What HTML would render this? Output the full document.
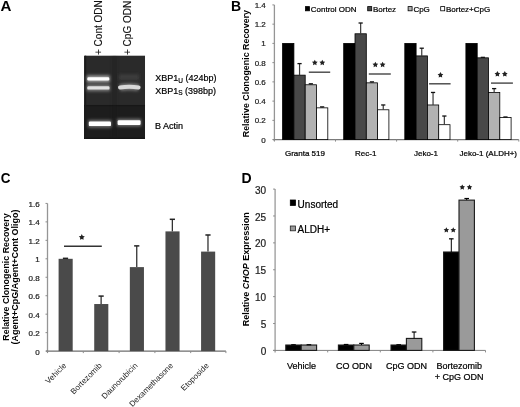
<!DOCTYPE html>
<html><head><meta charset="utf-8"><style>
html,body{margin:0;padding:0;background:#fff;width:520px;height:407px;overflow:hidden}
svg{display:block;font-family:"Liberation Sans", sans-serif}
#w{width:520px;height:407px;will-change:transform}
</style></head><body><div id="w">
<svg width="520" height="407" viewBox="0 0 520 407">
<rect width="520" height="407" fill="#fff"/>
<text transform="translate(0.6,10.9) scale(1.08,1)" font-size="14" font-weight="bold">A</text>
<text x="231.00" y="11.00" font-size="14" text-anchor="start" font-weight="bold" fill="#000" >B</text>
<text transform="translate(0.7,182.8) scale(0.94,1.06)" font-size="14.3" font-weight="bold">C</text>
<text x="241.50" y="183.00" font-size="14" text-anchor="start" font-weight="bold" fill="#000" >D</text>
<defs><filter id="bl1" x="-30%" y="-100%" width="160%" height="300%"><feGaussianBlur stdDeviation="0.75"/></filter><filter id="bl2" x="-100%" y="-100%" width="300%" height="300%"><feGaussianBlur stdDeviation="1.5"/></filter><filter id="bu1" filterUnits="userSpaceOnUse" x="80" y="50" width="70" height="95"><feGaussianBlur stdDeviation="0.75"/></filter><filter id="bu2" filterUnits="userSpaceOnUse" x="80" y="50" width="70" height="95"><feGaussianBlur stdDeviation="1.5"/></filter><clipPath id="gclip"><rect x="84" y="55.4" width="61.1" height="83.5"/></clipPath></defs>
<g clip-path="url(#gclip)">
<rect x="84.00" y="55.40" width="61.10" height="49.20" fill="#2a2a2a" />
<rect x="84.00" y="104.60" width="61.10" height="34.30" fill="#1d1d1d" />
<rect x="84.00" y="104.30" width="61.10" height="2.00" fill="#171717" />
<rect x="84.00" y="137.70" width="61.10" height="1.20" fill="#121212" />
<rect x="84.90" y="55.40" width="1.30" height="83.50" fill="#1b1b1b" />
<rect x="112.50" y="55.40" width="4.00" height="83.50" fill="#1a1a1a" filter="url(#bl2)" opacity="0.35"/>
<rect x="86.80" y="75.40" width="23.00" height="7.00" fill="#a0a0a0" opacity="1.0" filter="url(#bl2)"/>
<rect x="87.30" y="77.30" width="22.00" height="3.20" rx="1.20" fill="#ffffff" filter="url(#bl1)"/>
<rect x="86.80" y="84.65" width="23.20" height="6.50" fill="#808080" opacity="1.0" filter="url(#bl2)"/>
<rect x="87.30" y="86.20" width="22.20" height="3.40" rx="1.20" fill="#e0e0e0" filter="url(#bl1)"/>
<rect x="119" y="74.5" width="20" height="5.5" fill="#3c3c3c" filter="url(#bl2)"/>
<path d="M120.00,87.50 Q129.30,85.90 138.60,87.50" stroke="#7a7a7a" stroke-width="7.0" fill="none" filter="url(#bu2)"/>
<path d="M120.00,87.50 Q129.30,85.90 138.60,87.50" stroke="#d8d8d8" stroke-width="4.0" fill="none" stroke-linecap="round" filter="url(#bu1)"/>
<rect x="88.30" y="120.05" width="23.20" height="7.50" fill="#777" opacity="1.0" filter="url(#bl2)"/>
<rect x="88.80" y="121.50" width="22.20" height="4.60" rx="1.20" fill="#ffffff" filter="url(#bl1)"/>
<rect x="117.10" y="118.85" width="24.00" height="7.50" fill="#777" opacity="1.0" filter="url(#bl2)"/>
<rect x="117.60" y="120.20" width="23.00" height="4.80" rx="1.20" fill="#ffffff" filter="url(#bl1)"/>
</g>
<text transform="translate(101.6,55.0) rotate(-90)" font-size="10" fill="#111" stroke="#111" stroke-width="0.12">+ Cont ODN</text>
<text transform="translate(131.2,55.0) rotate(-90)" font-size="10" fill="#111" stroke="#111" stroke-width="0.12">+ CpG ODN</text>
<text x="155.2" y="81.2" font-size="9" stroke="#000" stroke-width="0.2">XBP1<tspan font-size="6.5" dy="1.5">U</tspan><tspan dy="-1.5"> (424bp)</tspan></text>
<text x="155.2" y="93.8" font-size="9" stroke="#000" stroke-width="0.2">XBP1<tspan font-size="6.5" dy="1.5">S</tspan><tspan dy="-1.5"> (398bp)</tspan></text>
<text x="155.00" y="129.00" font-size="9" text-anchor="start" font-weight="normal" fill="#000" stroke="#000" stroke-width="0.22" >B Actin</text>
<line x1="274.40" y1="4.92" x2="274.40" y2="140.60" stroke="#959595" stroke-width="1.3"/>
<line x1="272.90" y1="139.60" x2="518.80" y2="139.60" stroke="#7a7a7a" stroke-width="1.1"/>
<line x1="272.40" y1="139.60" x2="274.40" y2="139.60" stroke="#8c8c8c" stroke-width="1"/>
<text x="265.80" y="142.50" font-size="8" text-anchor="end" font-weight="normal" fill="#222" stroke="#222" stroke-width="0.22" >0</text>
<line x1="272.40" y1="120.36" x2="274.40" y2="120.36" stroke="#8c8c8c" stroke-width="1"/>
<text x="265.80" y="123.26" font-size="8" text-anchor="end" font-weight="normal" fill="#222" stroke="#222" stroke-width="0.22" >0.2</text>
<line x1="272.40" y1="101.12" x2="274.40" y2="101.12" stroke="#8c8c8c" stroke-width="1"/>
<text x="265.80" y="104.02" font-size="8" text-anchor="end" font-weight="normal" fill="#222" stroke="#222" stroke-width="0.22" >0.4</text>
<line x1="272.40" y1="81.88" x2="274.40" y2="81.88" stroke="#8c8c8c" stroke-width="1"/>
<text x="265.80" y="84.78" font-size="8" text-anchor="end" font-weight="normal" fill="#222" stroke="#222" stroke-width="0.22" >0.6</text>
<line x1="272.40" y1="62.64" x2="274.40" y2="62.64" stroke="#8c8c8c" stroke-width="1"/>
<text x="265.80" y="65.54" font-size="8" text-anchor="end" font-weight="normal" fill="#222" stroke="#222" stroke-width="0.22" >0.8</text>
<line x1="272.40" y1="43.40" x2="274.40" y2="43.40" stroke="#8c8c8c" stroke-width="1"/>
<text x="265.80" y="46.30" font-size="8" text-anchor="end" font-weight="normal" fill="#222" stroke="#222" stroke-width="0.22" >1</text>
<line x1="272.40" y1="24.16" x2="274.40" y2="24.16" stroke="#8c8c8c" stroke-width="1"/>
<text x="265.80" y="27.06" font-size="8" text-anchor="end" font-weight="normal" fill="#222" stroke="#222" stroke-width="0.22" >1.2</text>
<line x1="272.40" y1="4.92" x2="274.40" y2="4.92" stroke="#8c8c8c" stroke-width="1"/>
<text x="265.80" y="7.82" font-size="8" text-anchor="end" font-weight="normal" fill="#222" stroke="#222" stroke-width="0.22" >1.4</text>
<line x1="274.40" y1="139.60" x2="274.40" y2="141.60" stroke="#8c8c8c" stroke-width="1"/>
<line x1="335.50" y1="139.60" x2="335.50" y2="141.60" stroke="#8c8c8c" stroke-width="1"/>
<line x1="396.60" y1="139.60" x2="396.60" y2="141.60" stroke="#8c8c8c" stroke-width="1"/>
<line x1="457.70" y1="139.60" x2="457.70" y2="141.60" stroke="#8c8c8c" stroke-width="1"/>
<line x1="518.80" y1="139.60" x2="518.80" y2="141.60" stroke="#8c8c8c" stroke-width="1"/>
<rect x="282.60" y="43.40" width="11.30" height="96.20" fill="#000" stroke="#000" stroke-width="0.8" />
<rect x="293.90" y="75.15" width="11.30" height="64.45" fill="#484848" stroke="#000" stroke-width="0.8" />
<line x1="299.55" y1="63.60" x2="299.55" y2="75.15" stroke="#3a3a3a" stroke-width="1.2"/>
<line x1="297.45" y1="63.60" x2="301.65" y2="63.60" stroke="#111" stroke-width="1.3"/>
<rect x="305.20" y="84.77" width="11.30" height="54.83" fill="#b2b2b2" stroke="#000" stroke-width="0.8" />
<line x1="310.85" y1="83.80" x2="310.85" y2="84.77" stroke="#3a3a3a" stroke-width="1.2"/>
<line x1="308.75" y1="83.80" x2="312.95" y2="83.80" stroke="#111" stroke-width="1.3"/>
<rect x="316.50" y="107.85" width="11.30" height="31.75" fill="#fff" stroke="#000" stroke-width="0.8" />
<line x1="322.15" y1="106.89" x2="322.15" y2="107.85" stroke="#3a3a3a" stroke-width="1.2"/>
<line x1="320.05" y1="106.89" x2="324.25" y2="106.89" stroke="#111" stroke-width="1.3"/>
<rect x="343.70" y="43.40" width="11.30" height="96.20" fill="#000" stroke="#000" stroke-width="0.8" />
<rect x="355.00" y="33.78" width="11.30" height="105.82" fill="#484848" stroke="#000" stroke-width="0.8" />
<line x1="360.65" y1="23.01" x2="360.65" y2="33.78" stroke="#3a3a3a" stroke-width="1.2"/>
<line x1="358.55" y1="23.01" x2="362.75" y2="23.01" stroke="#111" stroke-width="1.3"/>
<rect x="366.30" y="82.84" width="11.30" height="56.76" fill="#b2b2b2" stroke="#000" stroke-width="0.8" />
<line x1="371.95" y1="81.88" x2="371.95" y2="82.84" stroke="#3a3a3a" stroke-width="1.2"/>
<line x1="369.85" y1="81.88" x2="374.05" y2="81.88" stroke="#111" stroke-width="1.3"/>
<rect x="377.60" y="109.78" width="11.30" height="29.82" fill="#fff" stroke="#000" stroke-width="0.8" />
<line x1="383.25" y1="104.97" x2="383.25" y2="109.78" stroke="#3a3a3a" stroke-width="1.2"/>
<line x1="381.15" y1="104.97" x2="385.35" y2="104.97" stroke="#111" stroke-width="1.3"/>
<rect x="404.80" y="43.40" width="11.30" height="96.20" fill="#000" stroke="#000" stroke-width="0.8" />
<rect x="416.10" y="55.91" width="11.30" height="83.69" fill="#484848" stroke="#000" stroke-width="0.8" />
<line x1="421.75" y1="48.21" x2="421.75" y2="55.91" stroke="#3a3a3a" stroke-width="1.2"/>
<line x1="419.65" y1="48.21" x2="423.85" y2="48.21" stroke="#111" stroke-width="1.3"/>
<rect x="427.40" y="104.97" width="11.30" height="34.63" fill="#b2b2b2" stroke="#000" stroke-width="0.8" />
<line x1="433.05" y1="92.46" x2="433.05" y2="104.97" stroke="#3a3a3a" stroke-width="1.2"/>
<line x1="430.95" y1="92.46" x2="435.15" y2="92.46" stroke="#111" stroke-width="1.3"/>
<rect x="438.70" y="124.69" width="11.30" height="14.91" fill="#fff" stroke="#000" stroke-width="0.8" />
<line x1="444.35" y1="116.03" x2="444.35" y2="124.69" stroke="#3a3a3a" stroke-width="1.2"/>
<line x1="442.25" y1="116.03" x2="446.45" y2="116.03" stroke="#111" stroke-width="1.3"/>
<rect x="465.90" y="43.40" width="11.30" height="96.20" fill="#000" stroke="#000" stroke-width="0.8" />
<rect x="477.20" y="57.83" width="11.30" height="81.77" fill="#484848" stroke="#000" stroke-width="0.8" />
<line x1="482.85" y1="57.35" x2="482.85" y2="57.83" stroke="#3a3a3a" stroke-width="1.2"/>
<line x1="480.75" y1="57.35" x2="484.95" y2="57.35" stroke="#111" stroke-width="1.3"/>
<rect x="488.50" y="92.46" width="11.30" height="47.14" fill="#b2b2b2" stroke="#000" stroke-width="0.8" />
<line x1="494.15" y1="88.61" x2="494.15" y2="92.46" stroke="#3a3a3a" stroke-width="1.2"/>
<line x1="492.05" y1="88.61" x2="496.25" y2="88.61" stroke="#111" stroke-width="1.3"/>
<rect x="499.80" y="117.47" width="11.30" height="22.13" fill="#fff" stroke="#000" stroke-width="0.8" />
<line x1="505.45" y1="116.99" x2="505.45" y2="117.47" stroke="#3a3a3a" stroke-width="1.2"/>
<line x1="503.35" y1="116.99" x2="507.55" y2="116.99" stroke="#111" stroke-width="1.3"/>
<rect x="305.50" y="6.60" width="4.00" height="4.20" fill="#000" stroke="#000" stroke-width="0.8" />
<text x="310.80" y="11.60" font-size="8" text-anchor="start" font-weight="normal" fill="#000" stroke="#000" stroke-width="0.22" >Control ODN</text>
<rect x="367.70" y="6.60" width="4.00" height="4.20" fill="#484848" stroke="#000" stroke-width="0.8" />
<text x="373.00" y="11.60" font-size="8" text-anchor="start" font-weight="normal" fill="#000" stroke="#000" stroke-width="0.22" >Bortez</text>
<rect x="408.10" y="6.60" width="4.00" height="4.20" fill="#b2b2b2" stroke="#000" stroke-width="0.8" />
<text x="413.40" y="11.60" font-size="8" text-anchor="start" font-weight="normal" fill="#000" stroke="#000" stroke-width="0.22" >CpG</text>
<rect x="440.70" y="6.60" width="4.00" height="4.20" fill="#fff" stroke="#000" stroke-width="0.8" />
<text x="446.00" y="11.60" font-size="8" text-anchor="start" font-weight="normal" fill="#000" stroke="#000" stroke-width="0.22" >Bortez+CpG</text>
<text x="304.95" y="156.20" font-size="8" text-anchor="middle" font-weight="normal" fill="#000" stroke="#000" stroke-width="0.22" >Granta 519</text>
<text x="365.75" y="156.20" font-size="8" text-anchor="middle" font-weight="normal" fill="#000" stroke="#000" stroke-width="0.22" >Rec-1</text>
<text x="425.95" y="156.20" font-size="8" text-anchor="middle" font-weight="normal" fill="#000" stroke="#000" stroke-width="0.22" >Jeko-1</text>
<text x="488.25" y="156.20" font-size="8" text-anchor="middle" font-weight="normal" fill="#000" stroke="#000" stroke-width="0.22" >Jeko-1 (ALDH+)</text>
<text transform="translate(249.2,73.6) rotate(-90)" font-size="8.9" font-weight="bold" text-anchor="middle">Relative Clonogenic Recovery</text>
<line x1="308.80" y1="72.20" x2="330.20" y2="72.20" stroke="#444" stroke-width="1.4"/>
<polygon points="314.80,59.80 315.72,61.54 317.65,61.87 316.28,63.28 316.56,65.23 314.80,64.36 313.04,65.23 313.32,63.28 311.95,61.87 313.88,61.54" fill="#222"/>
<polygon points="322.30,59.80 323.22,61.54 325.15,61.87 323.78,63.28 324.06,65.23 322.30,64.36 320.54,65.23 320.82,63.28 319.45,61.87 321.38,61.54" fill="#222"/>
<line x1="368.80" y1="74.00" x2="390.80" y2="74.00" stroke="#444" stroke-width="1.4"/>
<polygon points="375.35,61.70 376.27,63.44 378.20,63.77 376.83,65.18 377.11,67.13 375.35,66.26 373.59,67.13 373.87,65.18 372.50,63.77 374.43,63.44" fill="#222"/>
<polygon points="382.60,61.70 383.52,63.44 385.45,63.77 384.08,65.18 384.36,67.13 382.60,66.26 380.84,67.13 381.12,65.18 379.75,63.77 381.68,63.44" fill="#222"/>
<line x1="429.10" y1="83.80" x2="450.60" y2="83.80" stroke="#444" stroke-width="1.4"/>
<polygon points="440.45,72.10 441.37,73.84 443.30,74.17 441.93,75.58 442.21,77.53 440.45,76.66 438.69,77.53 438.97,75.58 437.60,74.17 439.53,73.84" fill="#222"/>
<line x1="491.00" y1="83.10" x2="512.90" y2="83.10" stroke="#444" stroke-width="1.4"/>
<polygon points="497.40,71.10 498.32,72.84 500.25,73.17 498.88,74.58 499.16,76.53 497.40,75.66 495.64,76.53 495.92,74.58 494.55,73.17 496.48,72.84" fill="#222"/>
<polygon points="504.80,71.10 505.72,72.84 507.65,73.17 506.28,74.58 506.56,76.53 504.80,75.66 503.04,76.53 503.32,74.58 501.95,73.17 503.88,72.84" fill="#222"/>
<line x1="47.50" y1="203.42" x2="47.50" y2="352.60" stroke="#959595" stroke-width="1.3"/>
<line x1="46.00" y1="351.10" x2="225.90" y2="351.10" stroke="#6e6e6e" stroke-width="1.1"/>
<line x1="45.50" y1="351.10" x2="47.50" y2="351.10" stroke="#8c8c8c" stroke-width="1"/>
<text x="39.60" y="354.60" font-size="8" text-anchor="end" font-weight="normal" fill="#222" stroke="#222" stroke-width="0.22" >0</text>
<line x1="45.50" y1="332.64" x2="47.50" y2="332.64" stroke="#8c8c8c" stroke-width="1"/>
<text x="39.60" y="336.14" font-size="8" text-anchor="end" font-weight="normal" fill="#222" stroke="#222" stroke-width="0.22" >0.2</text>
<line x1="45.50" y1="314.18" x2="47.50" y2="314.18" stroke="#8c8c8c" stroke-width="1"/>
<text x="39.60" y="317.68" font-size="8" text-anchor="end" font-weight="normal" fill="#222" stroke="#222" stroke-width="0.22" >0.4</text>
<line x1="45.50" y1="295.72" x2="47.50" y2="295.72" stroke="#8c8c8c" stroke-width="1"/>
<text x="39.60" y="299.22" font-size="8" text-anchor="end" font-weight="normal" fill="#222" stroke="#222" stroke-width="0.22" >0.6</text>
<line x1="45.50" y1="277.26" x2="47.50" y2="277.26" stroke="#8c8c8c" stroke-width="1"/>
<text x="39.60" y="280.76" font-size="8" text-anchor="end" font-weight="normal" fill="#222" stroke="#222" stroke-width="0.22" >0.8</text>
<line x1="45.50" y1="258.80" x2="47.50" y2="258.80" stroke="#8c8c8c" stroke-width="1"/>
<text x="39.60" y="262.30" font-size="8" text-anchor="end" font-weight="normal" fill="#222" stroke="#222" stroke-width="0.22" >1</text>
<line x1="45.50" y1="240.34" x2="47.50" y2="240.34" stroke="#8c8c8c" stroke-width="1"/>
<text x="39.60" y="243.84" font-size="8" text-anchor="end" font-weight="normal" fill="#222" stroke="#222" stroke-width="0.22" >1.2</text>
<line x1="45.50" y1="221.88" x2="47.50" y2="221.88" stroke="#8c8c8c" stroke-width="1"/>
<text x="39.60" y="225.38" font-size="8" text-anchor="end" font-weight="normal" fill="#222" stroke="#222" stroke-width="0.22" >1.4</text>
<line x1="45.50" y1="203.42" x2="47.50" y2="203.42" stroke="#8c8c8c" stroke-width="1"/>
<text x="39.60" y="206.92" font-size="8" text-anchor="end" font-weight="normal" fill="#222" stroke="#222" stroke-width="0.22" >1.6</text>
<line x1="47.50" y1="351.10" x2="47.50" y2="353.10" stroke="#8c8c8c" stroke-width="1"/>
<line x1="83.30" y1="351.10" x2="83.30" y2="353.10" stroke="#8c8c8c" stroke-width="1"/>
<line x1="119.10" y1="351.10" x2="119.10" y2="353.10" stroke="#8c8c8c" stroke-width="1"/>
<line x1="154.90" y1="351.10" x2="154.90" y2="353.10" stroke="#8c8c8c" stroke-width="1"/>
<line x1="190.70" y1="351.10" x2="190.70" y2="353.10" stroke="#8c8c8c" stroke-width="1"/>
<line x1="225.90" y1="351.10" x2="225.90" y2="353.10" stroke="#8c8c8c" stroke-width="1"/>
<rect x="58.60" y="258.80" width="14.10" height="92.30" fill="#4a4a4a" />
<line x1="65.50" y1="258.34" x2="65.50" y2="258.80" stroke="#333" stroke-width="1.3"/>
<line x1="62.90" y1="258.34" x2="68.10" y2="258.34" stroke="#222" stroke-width="1.5"/>
<text transform="translate(66.80,366.10) rotate(-45)" font-size="8" text-anchor="end" fill="#222">Vehicle</text>
<rect x="94.22" y="304.03" width="14.10" height="47.07" fill="#4a4a4a" />
<line x1="101.12" y1="296.09" x2="101.12" y2="304.03" stroke="#333" stroke-width="1.3"/>
<line x1="98.52" y1="296.09" x2="103.72" y2="296.09" stroke="#222" stroke-width="1.5"/>
<text transform="translate(102.42,366.10) rotate(-45)" font-size="8" text-anchor="end" fill="#222">Bortezomib</text>
<rect x="129.84" y="267.11" width="14.10" height="83.99" fill="#4a4a4a" />
<line x1="136.74" y1="245.88" x2="136.74" y2="267.11" stroke="#333" stroke-width="1.3"/>
<line x1="134.14" y1="245.88" x2="139.34" y2="245.88" stroke="#222" stroke-width="1.5"/>
<text transform="translate(138.04,366.10) rotate(-45)" font-size="8" text-anchor="end" fill="#222">Daunorubicin</text>
<rect x="165.46" y="231.39" width="14.10" height="119.71" fill="#4a4a4a" />
<line x1="172.36" y1="219.30" x2="172.36" y2="231.39" stroke="#333" stroke-width="1.3"/>
<line x1="169.76" y1="219.30" x2="174.96" y2="219.30" stroke="#222" stroke-width="1.5"/>
<text transform="translate(173.66,366.10) rotate(-45)" font-size="8" text-anchor="end" fill="#222">Dexamethasone</text>
<rect x="201.08" y="251.60" width="14.10" height="99.50" fill="#4a4a4a" />
<line x1="207.98" y1="234.99" x2="207.98" y2="251.60" stroke="#333" stroke-width="1.3"/>
<line x1="205.38" y1="234.99" x2="210.58" y2="234.99" stroke="#222" stroke-width="1.5"/>
<text transform="translate(209.28,366.10) rotate(-45)" font-size="8" text-anchor="end" fill="#222">Etoposide</text>
<line x1="64.00" y1="246.30" x2="101.80" y2="246.30" stroke="#333" stroke-width="1.5"/>
<polygon points="81.80,234.10 82.76,235.92 84.80,236.28 83.36,237.76 83.65,239.80 81.80,238.89 79.95,239.80 80.24,237.76 78.80,236.28 80.84,235.92" fill="#222"/>
<text transform="translate(9.3,277) rotate(-90)" font-size="8.9" font-weight="bold" text-anchor="middle">Relative Clonogenic Recovery</text>
<text transform="translate(17.8,277) rotate(-90)" font-size="9" font-weight="bold" text-anchor="middle">(Agent+CpG/Agent+Cont Oligo)</text>
<line x1="275.10" y1="189.10" x2="275.10" y2="352.40" stroke="#a0a0a0" stroke-width="1.4"/>
<line x1="273.10" y1="350.40" x2="485.50" y2="350.40" stroke="#808080" stroke-width="1"/>
<line x1="273.10" y1="350.40" x2="275.10" y2="350.40" stroke="#8c8c8c" stroke-width="1"/>
<text x="266.20" y="355.00" font-size="10" text-anchor="end" font-weight="normal" fill="#222" stroke="#222" stroke-width="0.22" >0</text>
<line x1="273.10" y1="323.52" x2="275.10" y2="323.52" stroke="#8c8c8c" stroke-width="1"/>
<text x="266.20" y="328.12" font-size="10" text-anchor="end" font-weight="normal" fill="#222" stroke="#222" stroke-width="0.22" >5</text>
<line x1="273.10" y1="296.63" x2="275.10" y2="296.63" stroke="#8c8c8c" stroke-width="1"/>
<text x="266.20" y="301.23" font-size="10" text-anchor="end" font-weight="normal" fill="#222" stroke="#222" stroke-width="0.22" >10</text>
<line x1="273.10" y1="269.75" x2="275.10" y2="269.75" stroke="#8c8c8c" stroke-width="1"/>
<text x="266.20" y="274.35" font-size="10" text-anchor="end" font-weight="normal" fill="#222" stroke="#222" stroke-width="0.22" >15</text>
<line x1="273.10" y1="242.87" x2="275.10" y2="242.87" stroke="#8c8c8c" stroke-width="1"/>
<text x="266.20" y="247.47" font-size="10" text-anchor="end" font-weight="normal" fill="#222" stroke="#222" stroke-width="0.22" >20</text>
<line x1="273.10" y1="215.98" x2="275.10" y2="215.98" stroke="#8c8c8c" stroke-width="1"/>
<text x="266.20" y="220.58" font-size="10" text-anchor="end" font-weight="normal" fill="#222" stroke="#222" stroke-width="0.22" >25</text>
<line x1="273.10" y1="189.10" x2="275.10" y2="189.10" stroke="#8c8c8c" stroke-width="1"/>
<text x="266.20" y="193.70" font-size="10" text-anchor="end" font-weight="normal" fill="#222" stroke="#222" stroke-width="0.22" >30</text>
<line x1="327.70" y1="350.40" x2="327.70" y2="352.40" stroke="#8c8c8c" stroke-width="1"/>
<line x1="380.30" y1="350.40" x2="380.30" y2="352.40" stroke="#8c8c8c" stroke-width="1"/>
<line x1="432.90" y1="350.40" x2="432.90" y2="352.40" stroke="#8c8c8c" stroke-width="1"/>
<line x1="485.50" y1="350.40" x2="485.50" y2="352.40" stroke="#8c8c8c" stroke-width="1"/>
<rect x="285.80" y="345.02" width="15.40" height="5.38" fill="#000" stroke="#1a1a1a" stroke-width="1.1" />
<line x1="293.50" y1="344.75" x2="293.50" y2="345.02" stroke="#000" stroke-width="1"/>
<line x1="291.20" y1="344.75" x2="295.80" y2="344.75" stroke="#000" stroke-width="1.2"/>
<rect x="301.20" y="345.02" width="15.40" height="5.38" fill="#9a9a9a" stroke="#1a1a1a" stroke-width="1.1" />
<line x1="308.90" y1="344.75" x2="308.90" y2="345.02" stroke="#000" stroke-width="1"/>
<line x1="306.60" y1="344.75" x2="311.20" y2="344.75" stroke="#000" stroke-width="1.2"/>
<rect x="338.40" y="345.02" width="15.40" height="5.38" fill="#000" stroke="#1a1a1a" stroke-width="1.1" />
<line x1="346.10" y1="344.49" x2="346.10" y2="345.02" stroke="#000" stroke-width="1"/>
<line x1="343.80" y1="344.49" x2="348.40" y2="344.49" stroke="#000" stroke-width="1.2"/>
<rect x="353.80" y="345.02" width="15.40" height="5.38" fill="#9a9a9a" stroke="#1a1a1a" stroke-width="1.1" />
<line x1="361.50" y1="343.41" x2="361.50" y2="345.02" stroke="#000" stroke-width="1"/>
<line x1="359.20" y1="343.41" x2="363.80" y2="343.41" stroke="#000" stroke-width="1.2"/>
<rect x="391.00" y="345.02" width="15.40" height="5.38" fill="#000" stroke="#1a1a1a" stroke-width="1.1" />
<line x1="398.70" y1="344.75" x2="398.70" y2="345.02" stroke="#000" stroke-width="1"/>
<line x1="396.40" y1="344.75" x2="401.00" y2="344.75" stroke="#000" stroke-width="1.2"/>
<rect x="406.40" y="338.41" width="15.40" height="11.99" fill="#9a9a9a" stroke="#1a1a1a" stroke-width="1.1" />
<line x1="414.10" y1="332.01" x2="414.10" y2="338.41" stroke="#000" stroke-width="1"/>
<line x1="411.80" y1="332.01" x2="416.40" y2="332.01" stroke="#000" stroke-width="1.2"/>
<rect x="443.60" y="252.01" width="15.40" height="98.39" fill="#000" stroke="#1a1a1a" stroke-width="1.1" />
<line x1="451.30" y1="238.83" x2="451.30" y2="252.01" stroke="#000" stroke-width="1"/>
<line x1="449.00" y1="238.83" x2="453.60" y2="238.83" stroke="#000" stroke-width="1.2"/>
<rect x="459.00" y="200.12" width="15.40" height="150.28" fill="#9a9a9a" stroke="#1a1a1a" stroke-width="1.1" />
<line x1="466.70" y1="198.51" x2="466.70" y2="200.12" stroke="#000" stroke-width="1"/>
<line x1="464.40" y1="198.51" x2="469.00" y2="198.51" stroke="#000" stroke-width="1.2"/>
<rect x="290.30" y="200.00" width="5.20" height="5.40" fill="#000" stroke="#000" stroke-width="0.8" />
<rect x="290.30" y="226.00" width="5.20" height="4.80" fill="#9a9a9a" stroke="#222" stroke-width="0.8" />
<text x="297.60" y="207.60" font-size="10" text-anchor="start" font-weight="normal" fill="#000" stroke="#000" stroke-width="0.22" >Unsorted</text>
<text x="297.60" y="232.80" font-size="10" text-anchor="start" font-weight="normal" fill="#000" stroke="#000" stroke-width="0.22" >ALDH+</text>
<text x="301.40" y="369.20" font-size="9" text-anchor="middle" font-weight="normal" fill="#000" stroke="#000" stroke-width="0.22" >Vehicle</text>
<text x="354.00" y="369.20" font-size="9" text-anchor="middle" font-weight="normal" fill="#000" stroke="#000" stroke-width="0.22" >CO ODN</text>
<text x="406.60" y="369.20" font-size="9" text-anchor="middle" font-weight="normal" fill="#000" stroke="#000" stroke-width="0.22" >CpG ODN</text>
<text x="459.20" y="369.20" font-size="9" text-anchor="middle" font-weight="normal" fill="#000" stroke="#000" stroke-width="0.22" >Bortezomib</text>
<text x="459.20" y="379.80" font-size="9" text-anchor="middle" font-weight="normal" fill="#000" stroke="#000" stroke-width="0.22" >+ CpG ODN</text>
<text transform="translate(248.9,269.2) rotate(-90)" font-size="9" font-weight="bold" text-anchor="middle">Relative <tspan font-style="italic">CHOP</tspan> Expression</text>
<polygon points="446.35,227.20 447.24,228.88 449.11,229.20 447.78,230.57 448.05,232.45 446.35,231.61 444.65,232.45 444.92,230.57 443.59,229.20 445.46,228.88" fill="#222"/>
<polygon points="453.25,227.20 454.14,228.88 456.01,229.20 454.68,230.57 454.95,232.45 453.25,231.61 451.55,232.45 451.82,230.57 450.49,229.20 452.36,228.88" fill="#222"/>
<polygon points="462.25,184.40 463.14,186.08 465.01,186.40 463.68,187.77 463.95,189.65 462.25,188.81 460.55,189.65 460.82,187.77 459.49,186.40 461.36,186.08" fill="#222"/>
<polygon points="469.50,184.40 470.39,186.08 472.26,186.40 470.93,187.77 471.20,189.65 469.50,188.81 467.80,189.65 468.07,187.77 466.74,186.40 468.61,186.08" fill="#222"/>
</svg></div>
</body></html>
